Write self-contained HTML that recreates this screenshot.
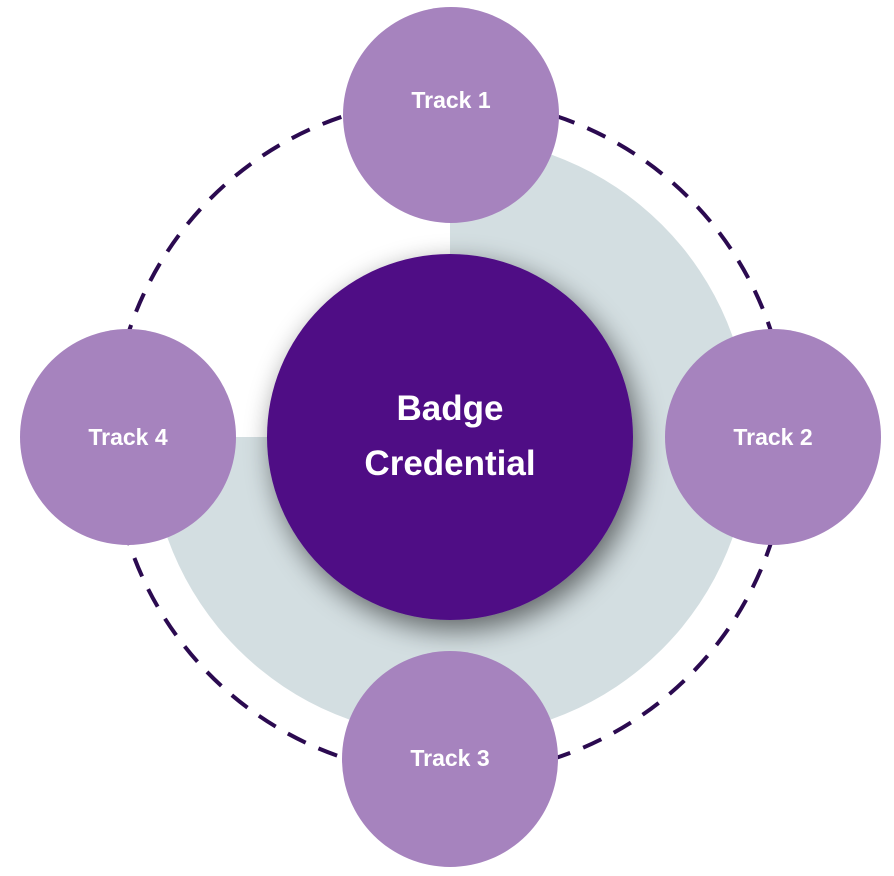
<!DOCTYPE html>
<html><head><style>
html,body{margin:0;padding:0;background:#fff;}
svg{display:block;}
text{font-family:"Liberation Sans",Arial,sans-serif;font-weight:bold;fill:#fff;text-anchor:middle;}
</style></head><body>
<svg width="894" height="876" viewBox="0 0 894 876" xmlns="http://www.w3.org/2000/svg">
<defs>
<filter id="sh" x="-30%" y="-30%" width="160%" height="160%">
<feGaussianBlur in="SourceAlpha" stdDeviation="14"/>
<feOffset dx="6" dy="10"/>
<feComponentTransfer><feFuncA type="linear" slope="0.55"/></feComponentTransfer>
<feMerge><feMergeNode/><feMergeNode in="SourceGraphic"/></feMerge>
</filter>
</defs>
<path d="M450 437 L450 137 A300 300 0 1 1 150 437 Z" fill="#d3dee1"/>
<circle cx="450" cy="437" r="338" fill="none" stroke="#2b0a50" stroke-width="4" stroke-dasharray="20 14"/>
<circle cx="450" cy="437" r="183" fill="#4f0e85" filter="url(#sh)"/>
<text x="450" y="420" font-size="35">Badge</text>
<text x="450" y="475" font-size="35">Credential</text>
<circle cx="451" cy="115" r="108" fill="#a683be"/>
<circle cx="773" cy="437" r="108" fill="#a683be"/>
<circle cx="450" cy="759" r="108" fill="#a683be"/>
<circle cx="128" cy="437" r="108" fill="#a683be"/>
<text x="451" y="108" font-size="23">Track 1</text>
<text x="773" y="445" font-size="23">Track 2</text>
<text x="450" y="766" font-size="23">Track 3</text>
<text x="128" y="445" font-size="23">Track 4</text>
</svg>
</body></html>
